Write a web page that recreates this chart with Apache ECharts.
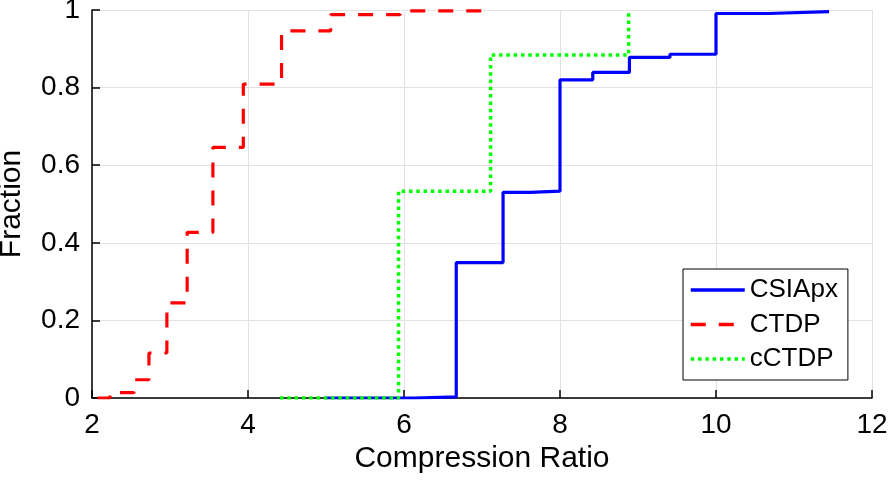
<!DOCTYPE html>
<html>
<head>
<meta charset="utf-8">
<script src="https://cdn.jsdelivr.net/npm/echarts@6/dist/echarts.min.js"></script>
<style>
html,body{margin:0;padding:0;background:#fff;}
#chart{width:888px;height:488px;}
</style>
</head>
<body>
<div id="chart"></div>
<script>
// ---- data ----
const seriesNames = ['CSIApx', 'CTDP', 'cCTDP'];

const csiX = [4.99, 6.14, 6.67, 7.27, 7.62, 8.00, 8.42, 8.89, 9.41, 10.00, 10.67, 11.45];
const csiY = [0, 0.003, 0.349, 0.530, 0.533, 0.820, 0.839, 0.878, 0.886, 0.991, 0.996, 0.997];

const ctdpX = [2.07, 2.23, 2.54, 2.73, 2.96, 3.22, 3.55, 3.94, 4.43, 5.06, 5.95, 7.12];
const ctdpY = [0, 0.014, 0.047, 0.116, 0.245, 0.427, 0.646, 0.809, 0.946, 0.988, 0.998, 1.0];

const cctdpX = [4.41, 5.93, 7.11, 8.88];
const cctdpY = [0, 0.533, 0.884, 1.0];

const xTicks = [2, 4, 6, 8, 10, 12];
const yTicks = [0, 0.2, 0.4, 0.6, 0.8, 1];

const xName = 'Compression Ratio';
const yName = 'Fraction';

// ---- chart ----
const FONT = "'Liberation Sans', Arial, Helvetica, sans-serif";
function pairs(xs, ys) { return xs.map((x, i) => [x, ys[i]]); }

const chart = echarts.init(document.getElementById('chart'), null, {renderer: 'canvas'});
const gridColor = '#e2e2e2';

chart.setOption({
  animation: false,
  backgroundColor: '#ffffff',
  grid: {left: 92, right: 16, top: 10, bottom: 90, containLabel: false, outerBoundsMode: 'none'},
  xAxis: {
    type: 'value',
    min: xTicks[0], max: xTicks[xTicks.length - 1], interval: xTicks[1] - xTicks[0],
    name: xName, nameLocation: 'middle', nameGap: 42,
    nameTextStyle: {fontFamily: FONT, fontSize: 30, color: '#000'},
    axisLine: {show: true, onZero: false, lineStyle: {color: '#000', width: 1.5}},
    axisTick: {show: true, inside: true, length: 8, lineStyle: {color: '#000', width: 1.5}},
    axisLabel: {fontFamily: FONT, fontSize: 28, color: '#000', margin: 13},
    splitLine: {show: true, lineStyle: {color: gridColor, width: 1}}
  },
  yAxis: {
    type: 'value',
    min: yTicks[0], max: yTicks[yTicks.length - 1], interval: yTicks[1] - yTicks[0],
    name: yName, nameLocation: 'middle', nameGap: 65, nameRotate: 90,
    nameTextStyle: {fontFamily: FONT, fontSize: 30, color: '#000'},
    axisLine: {show: true, lineStyle: {color: '#000', width: 1.5}},
    axisTick: {show: true, inside: true, length: 8, lineStyle: {color: '#000', width: 1.5}},
    axisLabel: {fontFamily: FONT, fontSize: 28, color: '#000', margin: 12},
    splitLine: {show: true, lineStyle: {color: gridColor, width: 1}}
  },
  legend: {
    orient: 'vertical',
    left: 683, top: 269,
    itemWidth: 54, itemHeight: 14, itemGap: 8.5,
    padding: [8, 10, 8, 6],
    borderColor: '#000', borderWidth: 1, borderRadius: 0,
    backgroundColor: '#fff',
    itemStyle: {opacity: 0},
    lineStyle: {width: 3.5},
    textStyle: {fontFamily: FONT, fontSize: 26, color: '#000', lineHeight: 26},
    data: seriesNames
  },
  series: [
    {
      name: seriesNames[0], type: 'line', step: 'end', symbol: 'none',
      data: pairs(csiX, csiY),
      lineStyle: {color: '#0000ff', width: 3.2, type: 'solid'},
      itemStyle: {color: '#0000ff'}
    },
    {
      name: seriesNames[1], type: 'line', step: 'end', symbol: 'none',
      data: pairs(ctdpX, ctdpY),
      lineStyle: {color: '#ff0000', width: 3.2, type: [15, 13]},
      itemStyle: {color: '#ff0000'}
    },
    {
      name: seriesNames[2], type: 'line', step: 'end', symbol: 'none',
      data: pairs(cctdpX, cctdpY),
      lineStyle: {color: '#00ff00', width: 3.5, type: [3.5, 3.8]},
      itemStyle: {color: '#00ff00'}
    }
  ]
});
</script>
</body>
</html>
